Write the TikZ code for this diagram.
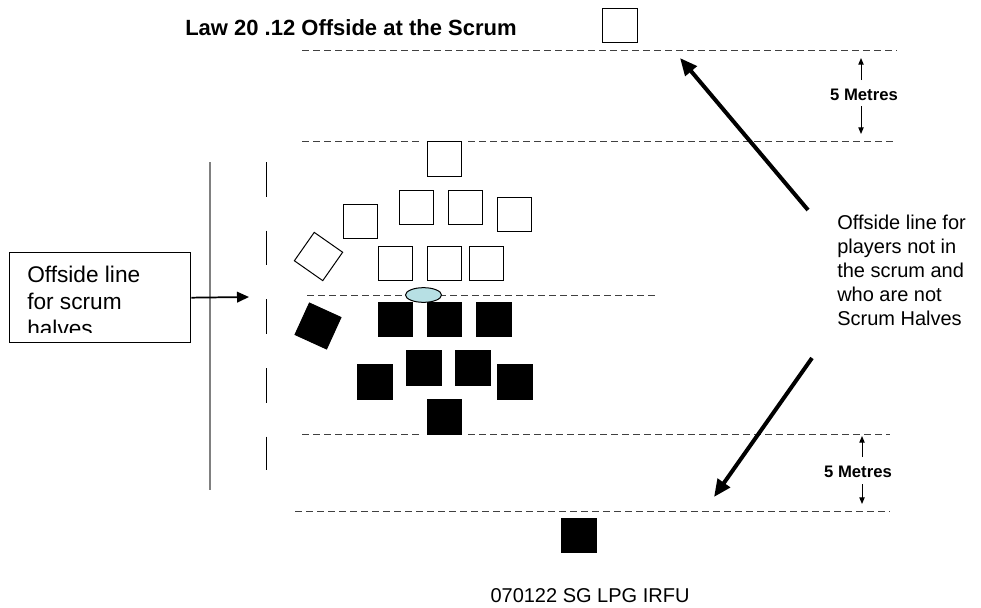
\documentclass[tikz,border=0pt]{standalone}
\usepackage{fontspec}
\setmainfont{Liberation Sans}
\usetikzlibrary{arrows.meta,shapes.geometric}
\definecolor{ballcol}{RGB}{183,224,228}
\begin{document}
\begin{tikzpicture}[x=0.75pt,y=-0.75pt,
  openp/.style={draw=black,fill=white,line width=0.75pt,minimum size=26pt,inner sep=0pt},
  blackp/.style={draw=black,fill=black,line width=0.75pt,minimum size=26pt,inner sep=0pt},
  fieldline/.style={draw=black!75,line width=0.75pt,dash pattern=on 5.25pt off 3pt},
  halfline/.style={draw=black,line width=0.75pt,dash pattern=on 26pt off 25.5pt},
  bigarrow/.style={draw=black,line width=3pt,-{Triangle[length=13pt,width=11pt]}},
  smallarrow/.style={draw=black,line width=0.75pt,-{Triangle[length=5pt,width=4pt]}},
  metres/.style={font=\bfseries\fontsize{12.5}{14}\selectfont,inner sep=0pt},
  label/.style={font=\fontsize{15}{18}\selectfont,align=left,inner sep=0pt},
  boxtext/.style={font=\fontsize{17}{20.25}\selectfont,align=left,inner sep=0pt}]
\useasboundingbox (0,0) rectangle (981,607);

% title
\node[anchor=base west,inner sep=0pt,font=\bfseries\fontsize{16.5}{19}\selectfont] (title) at (185,35) {Law 20 .12 Offside at the Scrum};

% field lines
\coordinate (l1a) at (302,50);  \coordinate (l1b) at (897,50);
\coordinate (l2a) at (302,141); \coordinate (l2b) at (420,141);
\coordinate (l2c) at (468,141); \coordinate (l2d) at (893,141);
\coordinate (l3a) at (307,295); \coordinate (l3b) at (658,295);
\coordinate (l4a) at (302,434); \coordinate (l4b) at (422,434);
\coordinate (l4c) at (468,434); \coordinate (l4d) at (890,434);
\coordinate (l5a) at (295,511); \coordinate (l5b) at (890,511);
\draw[fieldline] (l1a) -- (l1b);
\draw[fieldline] (l2a) -- (l2b);
\draw[fieldline] (l2c) -- (l2d);
\draw[fieldline] (l3a) -- (l3b);
\draw[fieldline] (l4a) -- (l4b);
\draw[fieldline] (l4c) -- (l4d);
\draw[fieldline] (l5a) -- (l5b);

% vertical lines
\coordinate (g1) at (210,162); \coordinate (g2) at (210,490);
\draw[gray,line width=0.9pt] (g1) -- (g2);
\coordinate (h1) at (266,162); \coordinate (h2) at (266,470);
\draw[halfline] (h1) -- (h2);

% players not in scrum
\node[openp] (top) at (620,25.5) {};
\node[blackp] (bot) at (579,535.5) {};

% open side (white)
\node[openp] (o1) at (444.5,159) {};
\node[openp] (o2) at (416.5,207.5) {};
\node[openp] (o3) at (465.5,207.5) {};
\node[openp] (o4) at (514.5,214.5) {};
\node[openp] (o5) at (360.5,221.5) {};
\node[openp] (o6) at (395.5,263.5) {};
\node[openp] (o7) at (444.5,263.5) {};
\node[openp] (o8) at (486.5,263.5) {};
\node[openp,rotate=-35] (o9) at (318.5,256.5) {};

% black side
\node[blackp] (b1) at (395.5,319.5) {};
\node[blackp] (b2) at (444.5,319.5) {};
\node[blackp] (b3) at (494,319.5) {};
\node[blackp] (b4) at (424,368) {};
\node[blackp] (b5) at (473,368) {};
\node[blackp] (b6) at (375,382) {};
\node[blackp] (b7) at (515,382) {};
\node[blackp] (b8) at (444.5,417) {};
\node[blackp,rotate=-24.5] (b9) at (318,326) {};

% ball
\node[ellipse,draw=black,line width=0.75pt,fill=ballcol,minimum width=27pt,minimum height=11pt,inner sep=0pt] (ball) at (423.5,295) {};

% scrum-half box
\node[draw=black,line width=1pt,minimum width=135.75pt,minimum height=67.5pt,inner sep=0pt,anchor=north west] (hb) at (9,252) {};
\begin{scope}
\clip (10,253) rectangle (189,332);
\node[boxtext,anchor=base west] (hbtext) at (27,336) {Offside line\\for scrum\\halves};
\end{scope}
\coordinate (hbtip) at (249,297);
\draw[draw=black,line width=1.3pt,-{Triangle[length=9pt,width=8pt]}] (hb.east) -- (hbtip);

% right label and arrows
\node[label,anchor=base west] (offl) at (837,325) {Offside line for\\players not in\\the scrum and\\who are not\\Scrum Halves};
\coordinate (a1s) at (808,210); \coordinate (a1e) at (680,58);
\coordinate (a2s) at (812,358); \coordinate (a2e) at (714,497);
\draw[bigarrow] (a1s) -- (a1e);
\draw[bigarrow] (a2s) -- (a2e);

% 5 metres
\node[metres] (m1) at (864,95) {5 Metres};
\coordinate (m1u) at (861,58); \coordinate (m1d) at (861,134);
\draw[smallarrow] (861,80) -- (m1u);
\draw[smallarrow] (861,106) -- (m1d);
\node[metres] (m2) at (858,472) {5 Metres};
\coordinate (m2u) at (862,436); \coordinate (m2d) at (862,504);
\draw[smallarrow] (862,457) -- (m2u);
\draw[smallarrow] (862,484) -- (m2d);

% footer
\node[font=\fontsize{15}{18}\selectfont,inner sep=0pt] (foot) at (590,596) {070122 SG LPG IRFU};
\end{tikzpicture}
\end{document}
